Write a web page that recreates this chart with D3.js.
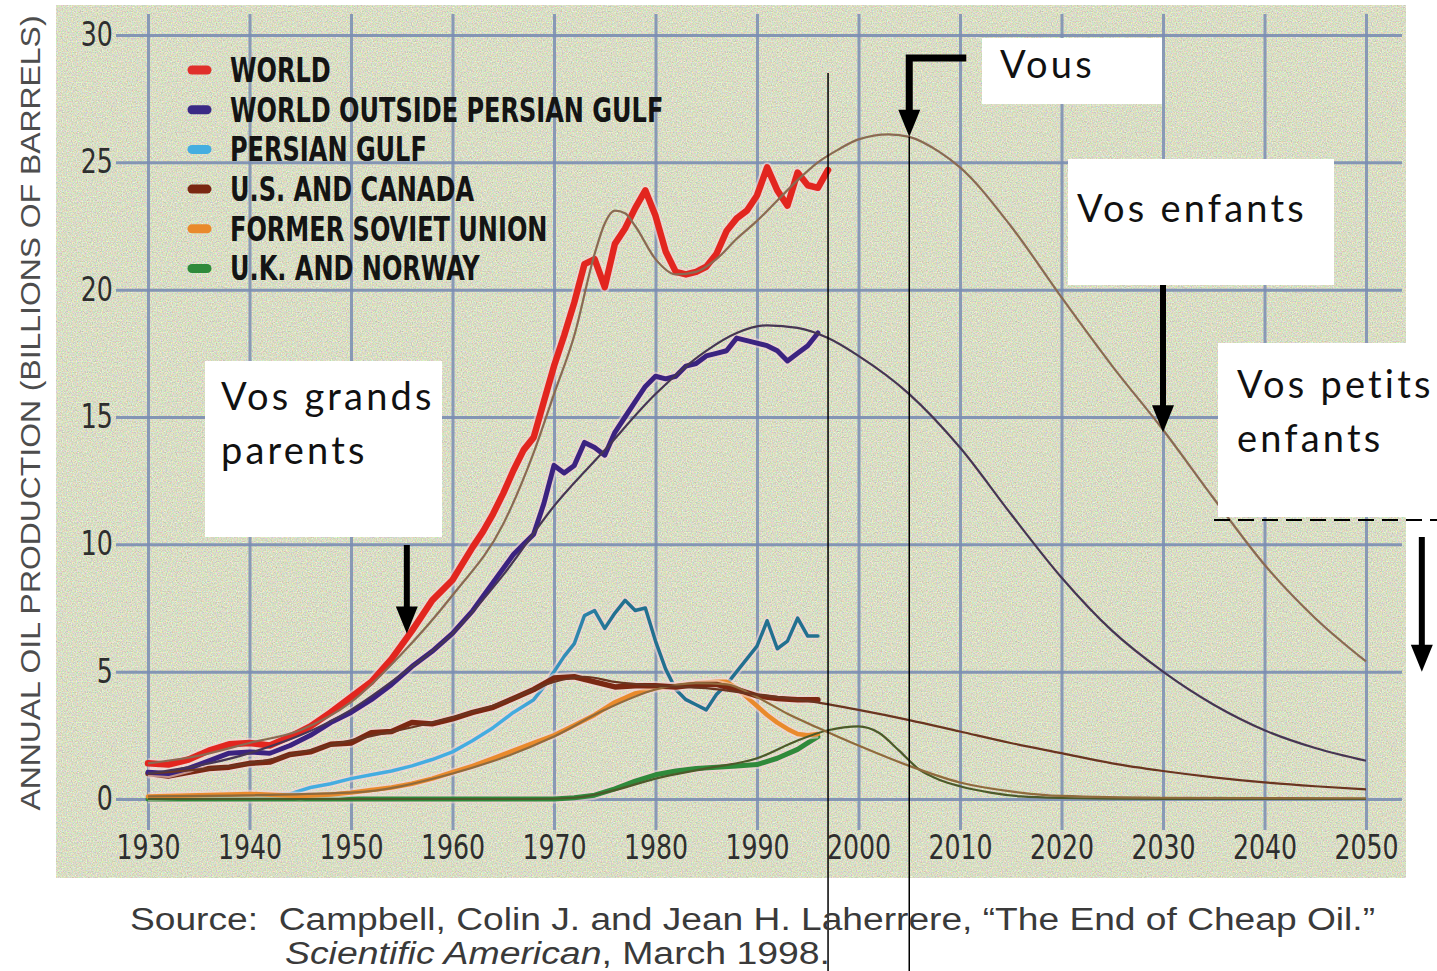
<!DOCTYPE html>
<html>
<head>
<meta charset="utf-8">
<script src="https://cdn.jsdelivr.net/npm/d3@7"></script>
<style>
  html, body { margin: 0; padding: 0; background: #fff; }
  #chart { width: 1437px; height: 971px; overflow: hidden; }
  .axis text { font-family: "Liberation Sans Narrow", "DejaVu Sans Condensed", sans-serif; font-size: 33px; fill: #2e2e2e; }
  .legend text { font-family: "Liberation Sans Narrow", "DejaVu Sans Condensed", sans-serif; font-weight: bold; font-size: 33px; fill: #141414; }
  .note text { font-family: Lato, "Open Sans", sans-serif; font-size: 38px; fill: #111; letter-spacing: 3.2px; }
  .source { font-family: "Liberation Sans", Arial, sans-serif; font-size: 31px; fill: #3a3a3a; white-space: pre; }
</style>
</head>
<body>
<div id="chart"></div>
<script>
// tick values
const xTicks = [1930, 1940, 1950, 1960, 1970, 1980, 1990, 2000, 2010, 2020, 2030, 2040, 2050];
const yTicks = [0, 5, 10, 15, 20, 25, 30];

// historical production (billions of barrels / year)
const worldYears = [1930,1932,1934,1936,1938,1940,1942,1944,1946,1948,1950,1952,1954,1956,1958,1960,
  1962,1963,1964,1965,1966,1967,1968,1969,1970,1971,1972,1973,1974,1975,1976,1977,1978,1979,1980,
  1981,1982,1983,1984,1985,1986,1987,1988,1989,1990,1991,1992,1993,1994,1995,1996,1997];
const worldValues = [1.4,1.35,1.55,1.9,2.15,2.2,2.1,2.45,2.85,3.4,4.0,4.6,5.5,6.6,7.8,8.6,
  9.9,10.5,11.2,12.0,12.9,13.7,14.2,15.6,17.0,18.2,19.5,21.0,21.2,20.1,21.8,22.4,23.2,23.9,22.9,
  21.5,20.7,20.6,20.7,20.9,21.4,22.3,22.8,23.1,23.7,24.8,23.9,23.3,24.6,24.1,24.0,24.7];

const outsideYears = [1930,1932,1934,1936,1938,1940,1942,1944,1946,1948,1950,1952,1954,1956,1958,1960,
  1962,1964,1966,1967,1968,1969,1970,1971,1972,1973,1974,1975,1976,1977,1978,1979,1980,1981,1982,
  1983,1984,1985,1986,1987,1988,1989,1990,1991,1992,1993,1994,1995,1996];
const outsideValues = [1.05,1.0,1.2,1.5,1.8,1.85,1.8,2.1,2.5,3.0,3.4,3.9,4.5,5.2,5.8,6.5,
  7.4,8.5,9.6,10.0,10.4,11.6,13.1,12.8,13.1,14.0,13.8,13.5,14.4,15.0,15.6,16.2,16.6,16.5,16.6,
  17.0,17.1,17.4,17.5,17.6,18.1,18.0,17.9,17.8,17.6,17.2,17.5,17.8,18.3];

const gulfYears = [1930,1935,1940,1944,1946,1948,1950,1952,1954,1956,1958,1960,1962,1964,1966,1968,
  1969,1970,1971,1972,1973,1974,1975,1976,1977,1978,1979,1980,1981,1982,1983,1984,1985,1986,1987,
  1988,1989,1990,1991,1992,1993,1994,1995,1996];
const gulfValues = [0.05,0.08,0.12,0.2,0.45,0.6,0.8,0.95,1.1,1.3,1.55,1.85,2.3,2.8,3.4,3.9,
  4.4,5.0,5.6,6.1,7.2,7.4,6.7,7.3,7.8,7.4,7.5,6.2,5.1,4.3,3.9,3.7,3.5,4.1,4.5,
  5.0,5.5,6.0,7.0,5.9,6.2,7.1,6.4,6.4];

const usYears = [1930,1932,1934,1936,1938,1940,1942,1944,1946,1948,1950,1952,1954,1956,1958,1960,
  1962,1964,1966,1968,1970,1972,1974,1976,1978,1980,1982,1984,1986,1988,1990,1992,1994,1996];
const usValues = [1.0,0.9,1.05,1.2,1.25,1.4,1.45,1.75,1.85,2.15,2.2,2.6,2.65,3.0,2.95,3.15,
  3.4,3.6,3.95,4.3,4.75,4.8,4.6,4.4,4.45,4.45,4.4,4.5,4.5,4.3,4.05,3.95,3.9,3.9];

const fsuYears = [1930,1935,1940,1945,1948,1950,1952,1954,1956,1958,1960,1962,1964,1966,1968,1970,
  1972,1974,1976,1978,1980,1982,1984,1986,1987,1988,1989,1990,1991,1992,1993,1994,1995,1996];
const fsuValues = [0.1,0.15,0.2,0.12,0.18,0.25,0.35,0.45,0.6,0.8,1.05,1.3,1.6,1.9,2.2,2.5,
  2.9,3.3,3.8,4.15,4.35,4.45,4.55,4.6,4.6,4.35,4.0,3.65,3.3,3.0,2.75,2.55,2.5,2.55];

const ukYears = [1930,1970,1972,1974,1976,1978,1980,1982,1984,1986,1988,1990,1992,1994,1995,1996];
const ukValues = [0,0,0.05,0.15,0.4,0.7,0.95,1.1,1.2,1.25,1.3,1.35,1.6,1.95,2.2,2.45];

// fitted / projected curves
const worldFitYears = [1930,1935,1940,1945,1950,1955,1960,1965,1968,1970,1972,1974,1975,1976,1977,1978,
  1980,1982,1984,1986,1988,1990,1992,1994,1996,1998,2000,2003,2005,2008,2010,2015,2020,2025,2030,
  2035,2040,2045,2050];
const worldFitValues = [1.4,1.7,2.2,2.7,3.8,5.7,8.0,10.8,13.6,15.9,18.2,21.4,22.6,23.1,23.0,22.5,
  21.2,20.6,20.7,21.2,22.0,22.7,23.5,24.3,25.0,25.5,25.9,26.1,26.0,25.4,24.8,22.5,19.7,17.0,14.5,
  11.8,9.2,7.1,5.4];

const outsideFitYears = [1930,1940,1950,1955,1960,1965,1970,1975,1980,1985,1988,1991,1994,1997,2000,
  2005,2010,2015,2020,2025,2030,2035,2040,2045,2050];
const outsideFitValues = [1.0,1.8,3.5,4.9,6.5,8.8,11.5,13.7,15.9,17.6,18.3,18.6,18.5,18.1,17.4,
  15.9,13.8,11.2,8.7,6.6,5.0,3.7,2.7,2.0,1.5];

const usFitYears = [1930,1940,1950,1960,1965,1970,1973,1976,1980,1985,1990,1995,2000,2005,2010,
  2015,2020,2025,2030,2035,2040,2045,2050];
const usFitValues = [1.0,1.4,2.3,3.2,3.8,4.6,4.8,4.6,4.45,4.35,4.1,3.85,3.5,3.1,2.65,
  2.2,1.8,1.4,1.1,0.85,0.65,0.5,0.38];

const fsuFitYears = [1930,1950,1960,1970,1975,1980,1984,1987,1990,1993,1996,2000,2005,2010,2015,2020,2030,2050];
const fsuFitValues = [0.1,0.25,1.0,2.45,3.5,4.3,4.55,4.5,4.0,3.35,2.8,2.1,1.3,0.65,0.3,0.12,0.05,0.03];

const ukFitYears = [1930,1968,1972,1976,1980,1985,1990,1994,1997,2000,2002,2004,2006,2008,2010,2013,2016,2020,2030,2050];
const ukFitValues = [0,0,0.05,0.35,0.8,1.2,1.6,2.3,2.7,2.85,2.6,1.9,1.15,0.75,0.5,0.25,0.1,0.04,0,0];

// legend
const legendLabels = ["WORLD", "WORLD OUTSIDE PERSIAN GULF", "PERSIAN GULF", "U.S. AND CANADA",
  "FORMER SOVIET UNION", "U.K. AND NORWAY"];

// annotations
const todayYear = 1997;
const arrowYears = [1955.5, 2005, 2030, 2055.5];
const arrowValues = [6.5, 26.0, 14.4, 5.0];

document.addEventListener("DOMContentLoaded", function() {
    const width = 1437;
    const height = 971;

    const svg = d3.select("#chart").append("svg")
        .attr("width", width)
        .attr("height", height);

    svg.append("rect").attr("width", width).attr("height", height).attr("fill", "#fff");

    const defs = svg.append("defs");

    // grainy paper look
    const paper = defs.append("filter").attr("id", "paper")
        .attr("x", 0).attr("y", 0).attr("width", "100%").attr("height", "100%")
        .attr("color-interpolation-filters", "sRGB");
    paper.append("feTurbulence")
        .attr("type", "fractalNoise")
        .attr("baseFrequency", 0.8)
        .attr("numOctaves", 2)
        .attr("seed", 4);
    paper.append("feColorMatrix")
        .attr("type", "matrix")
        .attr("values", "0.42 0 0 0 0.64  0 0.42 0 0 0.655  0 0 0.42 0 0.56  0 0 0 0 1");

    const x = d3.scaleLinear().domain([1930, 2050]).range([148, 1366]);
    const y = d3.scaleLinear().domain([0, 30]).range([799, 35]);

    const gulfGrad = defs.append("linearGradient").attr("id", "gulfGrad")
        .attr("gradientUnits", "userSpaceOnUse")
        .attr("x1", x(1966)).attr("x2", x(1976)).attr("y1", 0).attr("y2", 0);
    gulfGrad.append("stop").attr("offset", 0).attr("stop-color", "#44ade0");
    gulfGrad.append("stop").attr("offset", 1).attr("stop-color", "#22718f");

    svg.append("rect")
        .attr("x", 56).attr("y", 5)
        .attr("width", 1350).attr("height", 873)
        .attr("filter", "url(#paper)");

    // grid
    const gridColor = "#7a8db3";
    svg.append("g")
        .attr("transform", "translate(1402,0)")
        .call(d3.axisLeft(y).tickValues(yTicks).tickSize(1402 - 116).tickFormat(""))
        .call(g => g.select(".domain").remove())
        .selectAll("line")
        .attr("stroke", gridColor).attr("stroke-width", 3).attr("opacity", 0.9);

    svg.append("g")
        .attr("transform", "translate(0,830)")
        .call(d3.axisBottom(x).tickValues(xTicks).tickSize(-(830 - 14)).tickFormat(""))
        .call(g => g.select(".domain").remove())
        .selectAll("line")
        .attr("stroke", gridColor).attr("stroke-width", 3).attr("opacity", 0.85);

    // axes labels (narrowed to the condensed face of the original)
    svg.append("g")
        .attr("class", "axis")
        .attr("transform", "translate(118,0)")
        .call(d3.axisLeft(y).tickValues(yTicks).tickSize(0).tickPadding(6))
        .call(g => g.select(".domain").remove())
        .selectAll("text")
        .attr("transform", "scale(0.85,1)");

    svg.append("g")
        .attr("class", "axis")
        .attr("transform", "translate(0,831)")
        .call(d3.axisBottom(x).tickValues(xTicks).tickSize(0).tickPadding(5).tickFormat(d3.format("d")))
        .call(g => g.select(".domain").remove())
        .selectAll("text")
        .attr("transform", "scale(0.85,1)");

    svg.append("text")
        .attr("transform", "translate(40,413) rotate(-90)")
        .attr("text-anchor", "middle")
        .attr("font-family", "'Liberation Sans', Arial, sans-serif")
        .attr("font-size", 28)
        .attr("fill", "#4d4d4d")
        .attr("textLength", 795)
        .attr("lengthAdjust", "spacingAndGlyphs")
        .text("ANNUAL OIL PRODUCTION (BILLIONS OF BARRELS)");

    // lines
    const zip = (xs, vs) => xs.map((d, i) => [d, vs[i]]);
    const jagged = d3.line().x(d => x(d[0])).y(d => y(d[1]));
    const smooth = d3.line().x(d => x(d[0])).y(d => y(d[1])).curve(d3.curveMonotoneX);

    const history = [
        { data: zip(gulfYears, gulfValues), color: "url(#gulfGrad)", w: 3.5 },
        { data: zip(ukYears, ukValues), color: "#2f8a3b", w: 5 },
        { data: zip(fsuYears, fsuValues), color: "#e98a2c", w: 4.5 },
        { data: zip(usYears, usValues), color: "#7a2812", w: 5.5 },
        { data: zip(outsideYears, outsideValues), color: "#3b2380", w: 5 },
        { data: zip(worldYears, worldValues), color: "#e2261f", w: 6.5 }
    ];

    history.forEach(s => {
        svg.append("path")
            .datum(s.data)
            .attr("d", jagged)
            .attr("fill", "none")
            .attr("stroke", "#f3d6d6")
            .attr("stroke-opacity", 0.6)
            .attr("stroke-width", s.w + 4)
            .attr("stroke-linejoin", "round");
        svg.append("path")
            .datum(s.data)
            .attr("d", jagged)
            .attr("fill", "none")
            .attr("stroke", s.color)
            .attr("stroke-width", s.w)
            .attr("stroke-linejoin", "round")
            .attr("stroke-linecap", "round");
    });

    const fitted = [
        { data: zip(ukFitYears, ukFitValues), color: "#4c5a2a" },
        { data: zip(fsuFitYears, fsuFitValues), color: "#8f6a3c" },
        { data: zip(usFitYears, usFitValues), color: "#6a3520" },
        { data: zip(outsideFitYears, outsideFitValues), color: "#463653" },
        { data: zip(worldFitYears, worldFitValues), color: "#8a6a52" }
    ];

    fitted.forEach(s => {
        svg.append("path")
            .datum(s.data)
            .attr("d", smooth)
            .attr("fill", "none")
            .attr("stroke", s.color)
            .attr("stroke-width", 2.2);
    });

    // legend
    const legendColors = ["#e0302a", "#3a2a85", "#45aee0", "#7a2812", "#e98a2c", "#2f8a3b"];
    const legend = svg.append("g").attr("class", "legend");
    const row = legend.selectAll("g")
        .data(legendLabels)
      .enter().append("g")
        .attr("transform", (d, i) => `translate(0,${70 + i * 39.7})`);
    row.append("line")
        .attr("x1", 192).attr("x2", 207)
        .attr("stroke", (d, i) => legendColors[i])
        .attr("stroke-width", 9)
        .attr("stroke-linecap", "round");
    row.append("text")
        .attr("transform", "translate(230,0) scale(0.81,1)")
        .attr("dy", "0.36em")
        .text(d => d);

    // today line and "Vous"
    const note = svg.append("g").attr("class", "note");

    svg.append("line")
        .attr("x1", x(todayYear)).attr("x2", x(todayYear))
        .attr("y1", 73).attr("y2", height)
        .attr("stroke", "#000").attr("stroke-width", 1.5);

    const arrowHead = (ax, tip) => `M${ax - 11},${tip - 27}L${ax + 11},${tip - 27}L${ax},${tip}Z`;

    function arrow(i, top) {
        const ax = x(arrowYears[i]);
        const tip = y(arrowValues[i]);
        svg.append("line")
            .attr("x1", ax).attr("x2", ax)
            .attr("y1", top).attr("y2", tip - 24)
            .attr("stroke", "#000").attr("stroke-width", 6);
        svg.append("path").attr("d", arrowHead(ax, tip)).attr("fill", "#000");
    }

    // Vous
    const vx = x(arrowYears[1]);
    const vTip = y(arrowValues[1]);
    svg.append("line")
        .attr("x1", vx).attr("x2", vx)
        .attr("y1", vTip).attr("y2", height)
        .attr("stroke", "#000").attr("stroke-width", 1.5);
    svg.append("path")
        .attr("d", `M${vx + 57},58H${vx}V${vTip - 24}`)
        .attr("fill", "none")
        .attr("stroke", "#000").attr("stroke-width", 7);
    svg.append("path").attr("d", arrowHead(vx, vTip)).attr("fill", "#000");

    function box(bx, by, bw, bh, lines, tx, ty) {
        note.append("rect")
            .attr("x", bx).attr("y", by)
            .attr("width", bw).attr("height", bh)
            .attr("fill", "#fff");
        lines.forEach((t, i) => {
            note.append("text")
                .attr("x", tx).attr("y", ty + i * 54)
                .text(t);
        });
    }

    box(982, 38, 180, 66, ["Vous"], 1000, 78);
    box(1068, 159, 266, 126, ["Vos enfants"], 1077, 222);
    box(1218, 343, 219, 174, ["Vos petits", "enfants"], 1237, 398);
    box(205, 361, 237, 176, ["Vos grands", "parents"], 221, 410);

    arrow(0, 545);
    arrow(2, 285);
    arrow(3, 537);

    svg.append("line")
        .attr("x1", 1214).attr("x2", 1437)
        .attr("y1", 520).attr("y2", 520)
        .attr("stroke", "#000").attr("stroke-width", 2)
        .attr("stroke-dasharray", "16 8");

    // source
    svg.append("text")
        .attr("class", "source")
        .attr("x", 130).attr("y", 930)
        .attr("textLength", 1245)
        .attr("lengthAdjust", "spacingAndGlyphs")
        .text("Source:  Campbell, Colin J. and Jean H. Laherrere, \u201CThe End of Cheap Oil.\u201D");

    const src2 = svg.append("text")
        .attr("class", "source")
        .attr("x", 285).attr("y", 964)
        .attr("textLength", 545)
        .attr("lengthAdjust", "spacingAndGlyphs");
    src2.append("tspan").attr("font-style", "italic").text("Scientific American");
    src2.append("tspan").text(", March 1998.");
});
</script>
</body>
</html>
